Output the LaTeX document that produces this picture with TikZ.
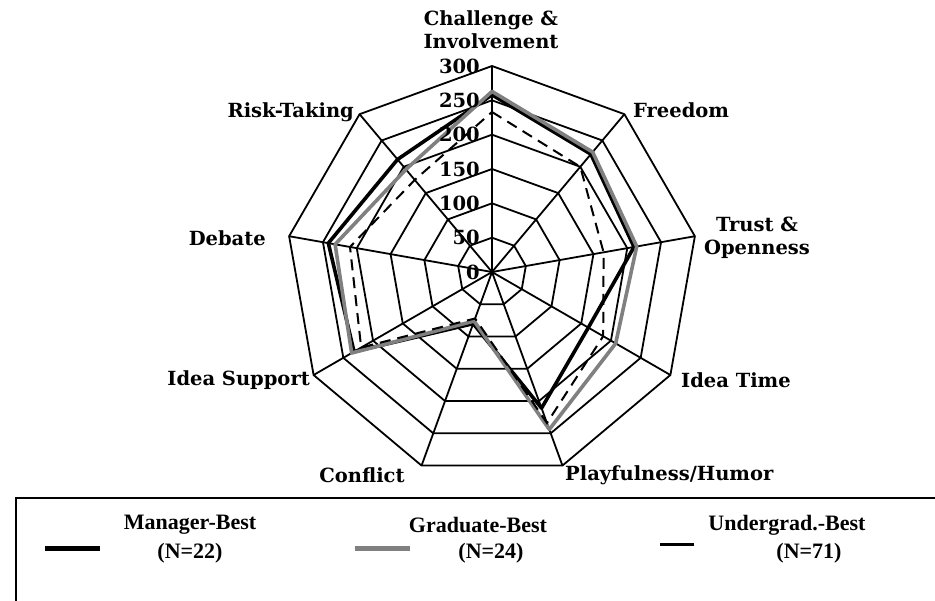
\documentclass[tikz,border=0pt]{standalone}
\usepackage{fontspec}
\setmainfont{DejaVu Serif}
\newfontfamily\legfont{Liberation Serif}
\definecolor{gradgray}{RGB}{128,128,128}
\begin{document}
\begin{tikzpicture}[x=1pt,y=-1pt,
  gridline/.style={line width=1.8pt, line join=miter},
  mgrline/.style={line width=3.6pt, black, line join=round},
  gradline/.style={line width=3.6pt, draw=gradgray, line join=round},
  ugline/.style={line width=2pt, dash pattern=on 11pt off 7pt, line join=miter},
  axlabel/.style={font=\bfseries\fontsize{19.5}{23}\selectfont, inner sep=0pt, align=center},
  numlabel/.style={font=\bfseries\fontsize{19.5}{22}\selectfont, anchor=east, inner sep=0pt},
  legtext/.style={font=\legfont\bfseries\fontsize{22}{27}\selectfont, inner sep=0pt}]
\useasboundingbox (0,0) rectangle (935,601);
\coordinate (c) at (492,272);
% grid coordinates
\foreach \i in {0,...,8}{
  \foreach \k in {1,...,6}{
    \coordinate (g\k-\i) at ({492+34.333*\k*sin(40*\i)},{272-34.333*\k*cos(40*\i)});
  }
}
% rings
\foreach \k in {1,...,6}
  \draw[gridline] (g\k-0)--(g\k-1)--(g\k-2)--(g\k-3)--(g\k-4)--(g\k-5)--(g\k-6)--(g\k-7)--(g\k-8)--cycle;
% spokes
\foreach \i in {0,...,8}
  \draw[gridline] (c)--(g6-\i);
% series coordinates
\foreach \v [count=\i from 0] in {258,224,210,162,211,80,232,242,214}
  \coordinate (m\i) at ({492+0.68667*\v*sin(40*\i)},{272-0.68667*\v*cos(40*\i)});
\foreach \v [count=\i from 0] in {263,228,214,208,244,76,236,232,195}
  \coordinate (r\i) at ({492+0.68667*\v*sin(40*\i)},{272-0.68667*\v*cos(40*\i)});
\foreach \v [count=\i from 0] in {233,200,165,187,234,72,220,210,175}
  \coordinate (u\i) at ({492+0.68667*\v*sin(40*\i)},{272-0.68667*\v*cos(40*\i)});
% series
\draw[mgrline] (m0)--(m1)--(m2)--(m3)--(m4)--(m5)--(m6)--(m7)--(m8)--cycle;
\draw[gradline] (r0)--(r1)--(r2)--(r3)--(r4)--(r5)--(r6)--(r7)--(r8)--cycle;
\draw[ugline] (u0)--(u1)--(u2)--(u3)--(u4)--(u5)--(u6)--(u7)--(u8)--cycle;
% scale labels
\foreach \k/\t in {0/0,1/50,2/100,3/150,4/200,5/250,6/300}
  \node[numlabel] (n\k) at (480,{272-34.333*\k}) {\t};
% axis labels
\node[axlabel] (l0) at (491,30) {Challenge \&\\Involvement};
\node[axlabel, anchor=west] (l1) at (633,110) {Freedom};
\node[axlabel] (l2) at (757,238) {Trust \&\\Openness};
\node[axlabel, anchor=west] (l3) at (681,380) {Idea Time};
\node[axlabel, anchor=west] (l4) at (565,475) {Playfulness/Humor};
\node[axlabel] (l5) at (362,475) {Conflict};
\node[axlabel, anchor=east] (l6) at (310,380) {Idea Support};
\node[axlabel, anchor=east] (l7) at (266,238) {Debate};
\node[axlabel, anchor=east] (l8) at (354,112) {Risk-Taking};
% legend box
\coordinate (lbl) at (16,601);
\coordinate (ltl) at (16,498);
\coordinate (ltr) at (935,498);
\draw[line width=2.5pt] (lbl)--(ltl)--(ltr);
% legend samples
\coordinate (s1a) at (45,548); \coordinate (s1b) at (100,548);
\coordinate (s2a) at (355,548); \coordinate (s2b) at (410,548);
\coordinate (s3a) at (660,544); \coordinate (s3b) at (694,544);
\draw[line width=5pt] (s1a)--(s1b);
\draw[line width=5pt, gradgray] (s2a)--(s2b);
\draw[line width=3pt] (s3a)--(s3b);
% legend text
\node[legtext] (t1a) at (190,525) {Manager-Best};
\node[legtext] (t1b) at (190,553) {(N=22)};
\node[legtext] (t2a) at (478,525) {Graduate-Best};
\node[legtext] (t2b) at (491,553) {(N=24)};
\node[legtext] (t3a) at (787,525) {Undergrad.-Best};
\node[legtext] (t3b) at (809,553) {(N=71)};
\end{tikzpicture}
\end{document}
